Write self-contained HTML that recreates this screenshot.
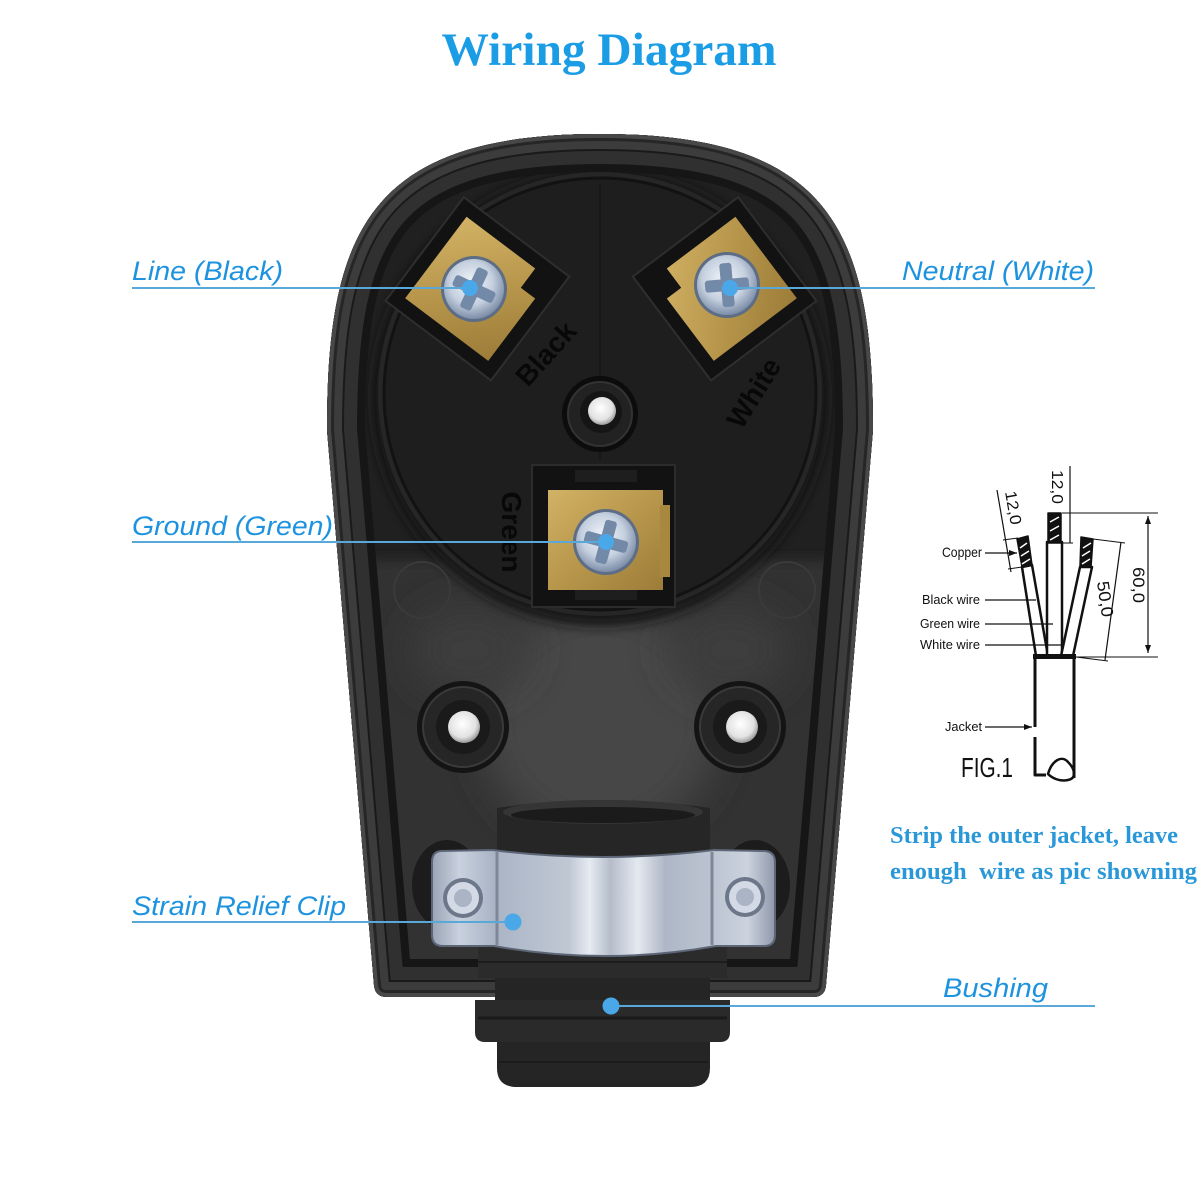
<!DOCTYPE html>
<html><head><meta charset="utf-8"><style>
html,body{margin:0;padding:0;background:#fff;}
svg{display:block;}
</style></head><body>
<svg width="1200" height="1200" viewBox="0 0 1200 1200" xmlns="http://www.w3.org/2000/svg">
<defs>
<clipPath id="bc"><path d="M327,430 C327,230 370,134 600,134 C830,134 873,230 873,430 L826,985 Q825,997 813,997 L387,997 Q375,997 374,985 Z"/></clipPath>
<linearGradient id="brass" x1="0" y1="0" x2="1" y2="1">
<stop offset="0" stop-color="#d2b265"/><stop offset="0.5" stop-color="#b8974c"/><stop offset="1" stop-color="#9c7c38"/>
</linearGradient>
<radialGradient id="scr" cx="0.45" cy="0.4" r="0.6">
<stop offset="0" stop-color="#f2f5fa"/><stop offset="0.6" stop-color="#c5d0df"/><stop offset="1" stop-color="#7d8ea8"/>
</radialGradient>
<radialGradient id="hole" cx="0.45" cy="0.4" r="0.6">
<stop offset="0" stop-color="#ffffff"/><stop offset="0.7" stop-color="#e2e2e2"/><stop offset="1" stop-color="#9a9a9a"/>
</radialGradient>
<linearGradient id="clipg" x1="0" y1="0" x2="1" y2="0">
<stop offset="0" stop-color="#9aa4b6"/><stop offset="0.08" stop-color="#c9d1de"/><stop offset="0.18" stop-color="#aab4c5"/>
<stop offset="0.3" stop-color="#b6bfcd"/><stop offset="0.4" stop-color="#c0c8d4"/><stop offset="0.46" stop-color="#e6ebf2"/>
<stop offset="0.52" stop-color="#b5bdca"/><stop offset="0.6" stop-color="#e4e9f0"/><stop offset="0.68" stop-color="#aeb7c6"/>
<stop offset="0.82" stop-color="#bcc4d1"/><stop offset="0.92" stop-color="#ccd3df"/><stop offset="1" stop-color="#8e98a9"/>
</linearGradient>
<filter id="blur20" x="-50%" y="-50%" width="200%" height="200%"><feGaussianBlur stdDeviation="20"/></filter>
<filter id="blur6" x="-50%" y="-50%" width="200%" height="200%"><feGaussianBlur stdDeviation="6"/></filter>
<marker id="ar" viewBox="0 0 8 6" refX="8" refY="3" markerWidth="8" markerHeight="6" orient="auto" markerUnits="userSpaceOnUse">
<path d="M0,0 L8,3 L0,6 Z" fill="#111"/></marker>
<marker id="ar2" viewBox="0 0 8 6" refX="0" refY="3" markerWidth="8" markerHeight="6" orient="auto" markerUnits="userSpaceOnUse">
<path d="M8,0 L0,3 L8,6 Z" fill="#111"/></marker>
</defs>

<rect width="1200" height="1200" fill="#fff"/>

<!-- Title -->
<text x="609" y="65" text-anchor="middle" font-family="'Liberation Serif', serif" font-weight="bold" font-size="47" fill="#1b9de6" textLength="335" lengthAdjust="spacingAndGlyphs">Wiring Diagram</text>

<!-- ===== BODY ===== -->
<g clip-path="url(#bc)">
  <rect x="300" y="120" width="600" height="900" fill="#202020"/>
  <!-- lower face -->
  <rect x="300" y="560" width="600" height="460" fill="#323232" filter="url(#blur6)"/>
  <ellipse cx="600" cy="720" rx="120" ry="120" fill="#474747" filter="url(#blur20)"/>
  <ellipse cx="470" cy="650" rx="60" ry="45" fill="#3c3c3c" filter="url(#blur20)"/>
  <ellipse cx="730" cy="650" rx="60" ry="45" fill="#3c3c3c" filter="url(#blur20)"/>
  <!-- dial shadow / channel -->
  <circle cx="600" cy="398" r="228" fill="#141414" filter="url(#blur6)"/>
  <!-- rim layers -->
  <path d="M327,430 C327,230 370,134 600,134 C830,134 873,230 873,430 L826,985 Q825,997 813,997 L387,997 Q375,997 374,985 Z" fill="none" stroke="#161616" stroke-width="76"/>
  <path d="M327,430 C327,230 370,134 600,134 C830,134 873,230 873,430 L826,985 Q825,997 813,997 L387,997 Q375,997 374,985 Z" fill="none" stroke="#303030" stroke-width="60"/>
  <path d="M327,430 C327,230 370,134 600,134 C830,134 873,230 873,430 L826,985 Q825,997 813,997 L387,997 Q375,997 374,985 Z" fill="none" stroke="#1a1a1a" stroke-width="34"/>
  <path d="M327,430 C327,230 370,134 600,134 C830,134 873,230 873,430 L826,985 Q825,997 813,997 L387,997 Q375,997 374,985 Z" fill="none" stroke="#3c3c3c" stroke-width="30"/>
  <path d="M327,430 C327,230 370,134 600,134 C830,134 873,230 873,430 L826,985 Q825,997 813,997 L387,997 Q375,997 374,985 Z" fill="none" stroke="#262626" stroke-width="14"/>
  <path d="M327,430 C327,230 370,134 600,134 C830,134 873,230 873,430 L826,985 Q825,997 813,997 L387,997 Q375,997 374,985 Z" fill="none" stroke="#484848" stroke-width="8"/>
</g>

<!-- faint circles -->
<circle cx="422" cy="590" r="28" fill="none" stroke="#3a3a3a" stroke-width="2"/>
<circle cx="787" cy="590" r="28" fill="none" stroke="#3a3a3a" stroke-width="2"/>
<!-- dial -->
<circle cx="600" cy="394" r="222" fill="#262626"/>
<circle cx="600" cy="394" r="216" fill="#1e1e1e" stroke="#121212" stroke-width="3"/>
<line x1="600" y1="185" x2="600" y2="460" stroke="#171717" stroke-width="1.5"/>

<!-- center post -->
<circle cx="600" cy="414" r="38" fill="#0c0c0c"/>
<circle cx="600" cy="414" r="32" fill="#222" stroke="#333" stroke-width="2"/>
<circle cx="601" cy="412" r="21" fill="#151515"/>
<circle cx="602" cy="411" r="14" fill="url(#hole)"/>

<!-- Black terminal -->
<g transform="translate(478,288) rotate(37)">
  <rect x="-66" y="-64" width="132" height="130" fill="#121212" stroke="#2e2e2e" stroke-width="2"/>
  <rect x="-52" y="-50" width="104" height="102" fill="url(#brass)"/>
  <rect x="34" y="-52" width="20" height="26" fill="#121212"/>
</g>
<!-- White terminal -->
<g transform="translate(724,288) rotate(-37)">
  <rect x="-66" y="-64" width="132" height="130" fill="#121212" stroke="#2e2e2e" stroke-width="2"/>
  <rect x="-52" y="-50" width="104" height="102" fill="url(#brass)"/>
  <rect x="-54" y="-52" width="20" height="26" fill="#121212"/>
</g>
<!-- Green terminal -->
<rect x="532" y="465" width="143" height="142" fill="#121212" stroke="#2c2c2c" stroke-width="2"/>
<rect x="575" y="470" width="62" height="12" fill="#1e1e1e"/>
<rect x="575" y="590" width="62" height="10" fill="#1e1e1e"/>
<rect x="548" y="490" width="115" height="100" fill="url(#brass)"/>
<rect x="660" y="505" width="10" height="72" fill="#a8873f"/>

<!-- terminal labels -->
<text x="0" y="0" transform="translate(553,360) rotate(-48)" text-anchor="middle" font-family="'Liberation Sans', sans-serif" font-weight="bold" font-size="28" fill="#080808">Black</text>
<text x="0" y="0" transform="translate(762,398) rotate(-58)" text-anchor="middle" font-family="'Liberation Sans', sans-serif" font-weight="bold" font-size="28" fill="#080808">White</text>
<text x="0" y="0" transform="translate(502,532) rotate(90)" text-anchor="middle" font-family="'Liberation Sans', sans-serif" font-weight="bold" font-size="28" fill="#080808">Green</text>

<!-- screws -->
<g transform="translate(474,289)">
  <circle r="33" fill="#5d6d85"/><circle r="30" fill="url(#scr)"/>
  <g transform="rotate(25)" fill="#7389a8"><rect x="-22" y="-6" width="44" height="12" rx="3"/><rect x="-6" y="-22" width="12" height="44" rx="3"/></g>
</g>
<g transform="translate(727,285)">
  <circle r="33" fill="#5d6d85"/><circle r="30" fill="url(#scr)"/>
  <g transform="rotate(-5)" fill="#7389a8"><rect x="-22" y="-6" width="44" height="12" rx="3"/><rect x="-6" y="-22" width="12" height="44" rx="3"/></g>
</g>
<g transform="translate(606,542)">
  <circle r="33" fill="#5d6d85"/><circle r="30" fill="url(#scr)"/>
  <g transform="rotate(15)" fill="#7389a8"><rect x="-22" y="-6" width="44" height="12" rx="3"/><rect x="-6" y="-22" width="12" height="44" rx="3"/></g>
</g>

<!-- side posts -->
<g>
  <circle cx="463" cy="727" r="46" fill="#141414"/>
  <circle cx="463" cy="727" r="40" fill="#262626" stroke="#3a3a3a" stroke-width="2"/>
  <circle cx="463" cy="727" r="27" fill="#1a1a1a"/>
  <circle cx="464" cy="727" r="16" fill="url(#hole)"/>
  <circle cx="740" cy="727" r="46" fill="#141414"/>
  <circle cx="740" cy="727" r="40" fill="#262626" stroke="#3a3a3a" stroke-width="2"/>
  <circle cx="740" cy="727" r="27" fill="#1a1a1a"/>
  <circle cx="742" cy="727" r="16" fill="url(#hole)"/>
</g>

<!-- bushing upper cylinder -->
<path d="M497,808 Q603,792 710,808 L710,860 L497,860 Z" fill="#262626"/>
<ellipse cx="603" cy="812" rx="100" ry="12" fill="#353535"/>
<ellipse cx="603" cy="815" rx="92" ry="8" fill="#1b1b1b"/>
<!-- discs behind ears -->
<ellipse cx="447" cy="885" rx="36" ry="46" fill="#1c1c1c" stroke="#333" stroke-width="2"/>
<ellipse cx="755" cy="885" rx="36" ry="46" fill="#1c1c1c" stroke="#333" stroke-width="2"/>

<!-- bushing lower -->
<rect x="495" y="970" width="215" height="40" fill="#252525"/>
<path d="M475,1000 L730,1000 L730,1032 Q730,1042 720,1042 L485,1042 Q475,1042 475,1032 Z" fill="#2a2a2a"/>
<line x1="478" y1="1018" x2="727" y2="1018" stroke="#1a1a1a" stroke-width="3"/>
<path d="M497,1042 L710,1042 L710,1068 Q710,1087 690,1087 L517,1087 Q497,1087 497,1068 Z" fill="#252525"/>
<line x1="499" y1="1062" x2="708" y2="1062" stroke="#1c1c1c" stroke-width="2"/>
<path d="M478,943 L727,943 L727,978 L478,978 Z" fill="#2b2b2b"/>
<line x1="478" y1="962" x2="727" y2="962" stroke="#1d1d1d" stroke-width="2"/>

<!-- strain relief clip -->
<path d="M442,851 L492,850 Q603,864 714,850 L765,851 Q775,852 775,862 L775,935 Q775,946 764,946 L716,946 Q605,966 494,946 L443,946 Q432,946 432,935 L432,862 Q432,851 442,851 Z" fill="url(#clipg)" stroke="#5d6677" stroke-width="2"/>
<line x1="497" y1="852" x2="497" y2="945" stroke="#7d8798" stroke-width="3"/>
<line x1="712" y1="852" x2="712" y2="945" stroke="#7d8798" stroke-width="3"/>
<circle cx="463" cy="898" r="20" fill="#6c778a"/>
<circle cx="463" cy="898" r="16" fill="#d3dae5"/>
<circle cx="463" cy="898" r="9" fill="#aab4c4"/>
<circle cx="745" cy="897" r="20" fill="#6c778a"/>
<circle cx="745" cy="897" r="16" fill="#d3dae5"/>
<circle cx="745" cy="897" r="9" fill="#aab4c4"/>

<!-- ===== Callout lines ===== -->
<g stroke="#58a8da" stroke-width="2">
  <line x1="132" y1="288" x2="470" y2="288"/>
  <line x1="730" y1="288" x2="1095" y2="288"/>
  <line x1="132" y1="542" x2="606" y2="542"/>
  <line x1="132" y1="922" x2="513" y2="922"/>
  <line x1="611" y1="1006" x2="1095" y2="1006"/>
</g>
<g fill="#4aa8e8">
  <circle cx="470" cy="288" r="8"/>
  <circle cx="730" cy="288" r="8"/>
  <circle cx="606" cy="542" r="8"/>
  <circle cx="513" cy="922" r="8.5"/>
  <circle cx="611" cy="1006" r="8.5"/>
</g>

<!-- labels -->
<g font-family="'Liberation Sans', sans-serif" font-style="italic" font-size="27" fill="#1d93df">
  <text x="132" y="280" textLength="151" lengthAdjust="spacingAndGlyphs">Line (Black)</text>
  <text x="902" y="280" textLength="192" lengthAdjust="spacingAndGlyphs">Neutral (White)</text>
  <text x="132" y="535" textLength="201" lengthAdjust="spacingAndGlyphs">Ground (Green)</text>
  <text x="132" y="915" textLength="214" lengthAdjust="spacingAndGlyphs">Strain Relief Clip</text>
  <text x="943" y="997" textLength="105" lengthAdjust="spacingAndGlyphs">Bushing</text>
</g>

<!-- instruction text -->
<g font-family="'Liberation Serif', serif" font-weight="bold" font-size="24" fill="#2a98d8">
  <text x="890" y="843" textLength="288" lengthAdjust="spacingAndGlyphs">Strip the outer jacket, leave</text>
  <text x="890" y="879" textLength="307" lengthAdjust="spacingAndGlyphs" xml:space="preserve">enough  wire as pic showning</text>
</g>

<!-- ===== FIG.1 ===== -->
<g stroke="#111" fill="none" stroke-linejoin="round">
  <polygon points="1022,567 1032,565 1048,656 1036,656" fill="#fff" stroke-width="2.5"/>
  <rect x="1047" y="542" width="15" height="114" fill="#fff" stroke-width="2.5"/>
  <polygon points="1080,567 1092,567 1073,656 1061,656" fill="#fff" stroke-width="2.5"/>
  <polygon points="1017,539 1028,536 1032,565 1022,567" fill="#111" stroke-width="1.5"/>
  <rect x="1048" y="513" width="13" height="30" fill="#111" stroke-width="1.5"/>
  <polygon points="1081,537 1093,539 1091,567 1080,566" fill="#111" stroke-width="1.5"/>
  <rect x="1033" y="654" width="43" height="5" fill="#111" stroke="none"/>
  <path d="M1035,656 V727 M1035,737 V775 H1046" stroke-width="3"/>
  <path d="M1074,656 V778" stroke-width="3"/>
  <path d="M1048,774 C1052,760 1062,755 1068,762 C1074,768 1078,778 1068,780 C1060,782 1052,778 1048,774 Z" stroke-width="2.5"/>
  <path d="M985,553 H1017" stroke-width="1.3" marker-end="url(#ar)"/>
  <path d="M985,600 H1036" stroke-width="1.3"/>
  <path d="M985,624 H1053" stroke-width="1.3"/>
  <path d="M985,645 H1061" stroke-width="1.3"/>
  <path d="M985,727 H1032" stroke-width="1.3" marker-end="url(#ar)"/>
  <path d="M997,490 L1011,572" stroke-width="1.2"/>
  <path d="M1003,540 L1018,538 M1008,569 L1022,567" stroke-width="1"/>
  <path d="M1070,466 V543" stroke-width="1.2"/>
  <path d="M1062,543 H1073 M1062,513 H1158" stroke-width="1"/>
  <path d="M1148,516 V653" stroke-width="1.2" marker-start="url(#ar2)" marker-end="url(#ar)"/>
  <path d="M1076,657 H1158" stroke-width="1"/>
  <path d="M1121,542 L1105,660" stroke-width="1.2"/>
  <path d="M1093,539 L1125,543 M1076,657 L1108,661" stroke-width="1"/>
</g>
<g stroke="#fff" stroke-width="1.5">
  <path d="M1020,548 L1027,543 M1021,556 L1029,551 M1022,564 L1030,559"/>
  <path d="M1050,522 L1059,517 M1050,531 L1059,526 M1050,540 L1059,535"/>
  <path d="M1083,548 L1091,543 M1082,556 L1090,551 M1082,564 L1090,559"/>
</g>
<g font-family="'Liberation Sans', sans-serif" fill="#111">
  <text x="942" y="557" font-size="14" textLength="40" lengthAdjust="spacingAndGlyphs">Copper</text>
  <text x="922" y="604" font-size="13" textLength="58" lengthAdjust="spacingAndGlyphs">Black wire</text>
  <text x="920" y="628" font-size="13" textLength="60" lengthAdjust="spacingAndGlyphs">Green wire</text>
  <text x="920" y="649" font-size="13" textLength="60" lengthAdjust="spacingAndGlyphs">White wire</text>
  <text x="945" y="731" font-size="13" textLength="37" lengthAdjust="spacingAndGlyphs">Jacket</text>
  <text x="961" y="777" font-size="28" textLength="52" lengthAdjust="spacingAndGlyphs">FIG.1</text>
  <text x="0" y="0" transform="translate(1005,492) rotate(80)" font-size="16" textLength="34" lengthAdjust="spacingAndGlyphs">12,0</text>
  <text x="0" y="0" transform="translate(1052,470) rotate(90)" font-size="16" textLength="34" lengthAdjust="spacingAndGlyphs">12,0</text>
  <text x="0" y="0" transform="translate(1133,567) rotate(90)" font-size="17" textLength="36" lengthAdjust="spacingAndGlyphs">60,0</text>
  <text x="0" y="0" transform="translate(1097,582) rotate(82)" font-size="17" textLength="36" lengthAdjust="spacingAndGlyphs">50,0</text>
</g>
</svg>
</body></html>
